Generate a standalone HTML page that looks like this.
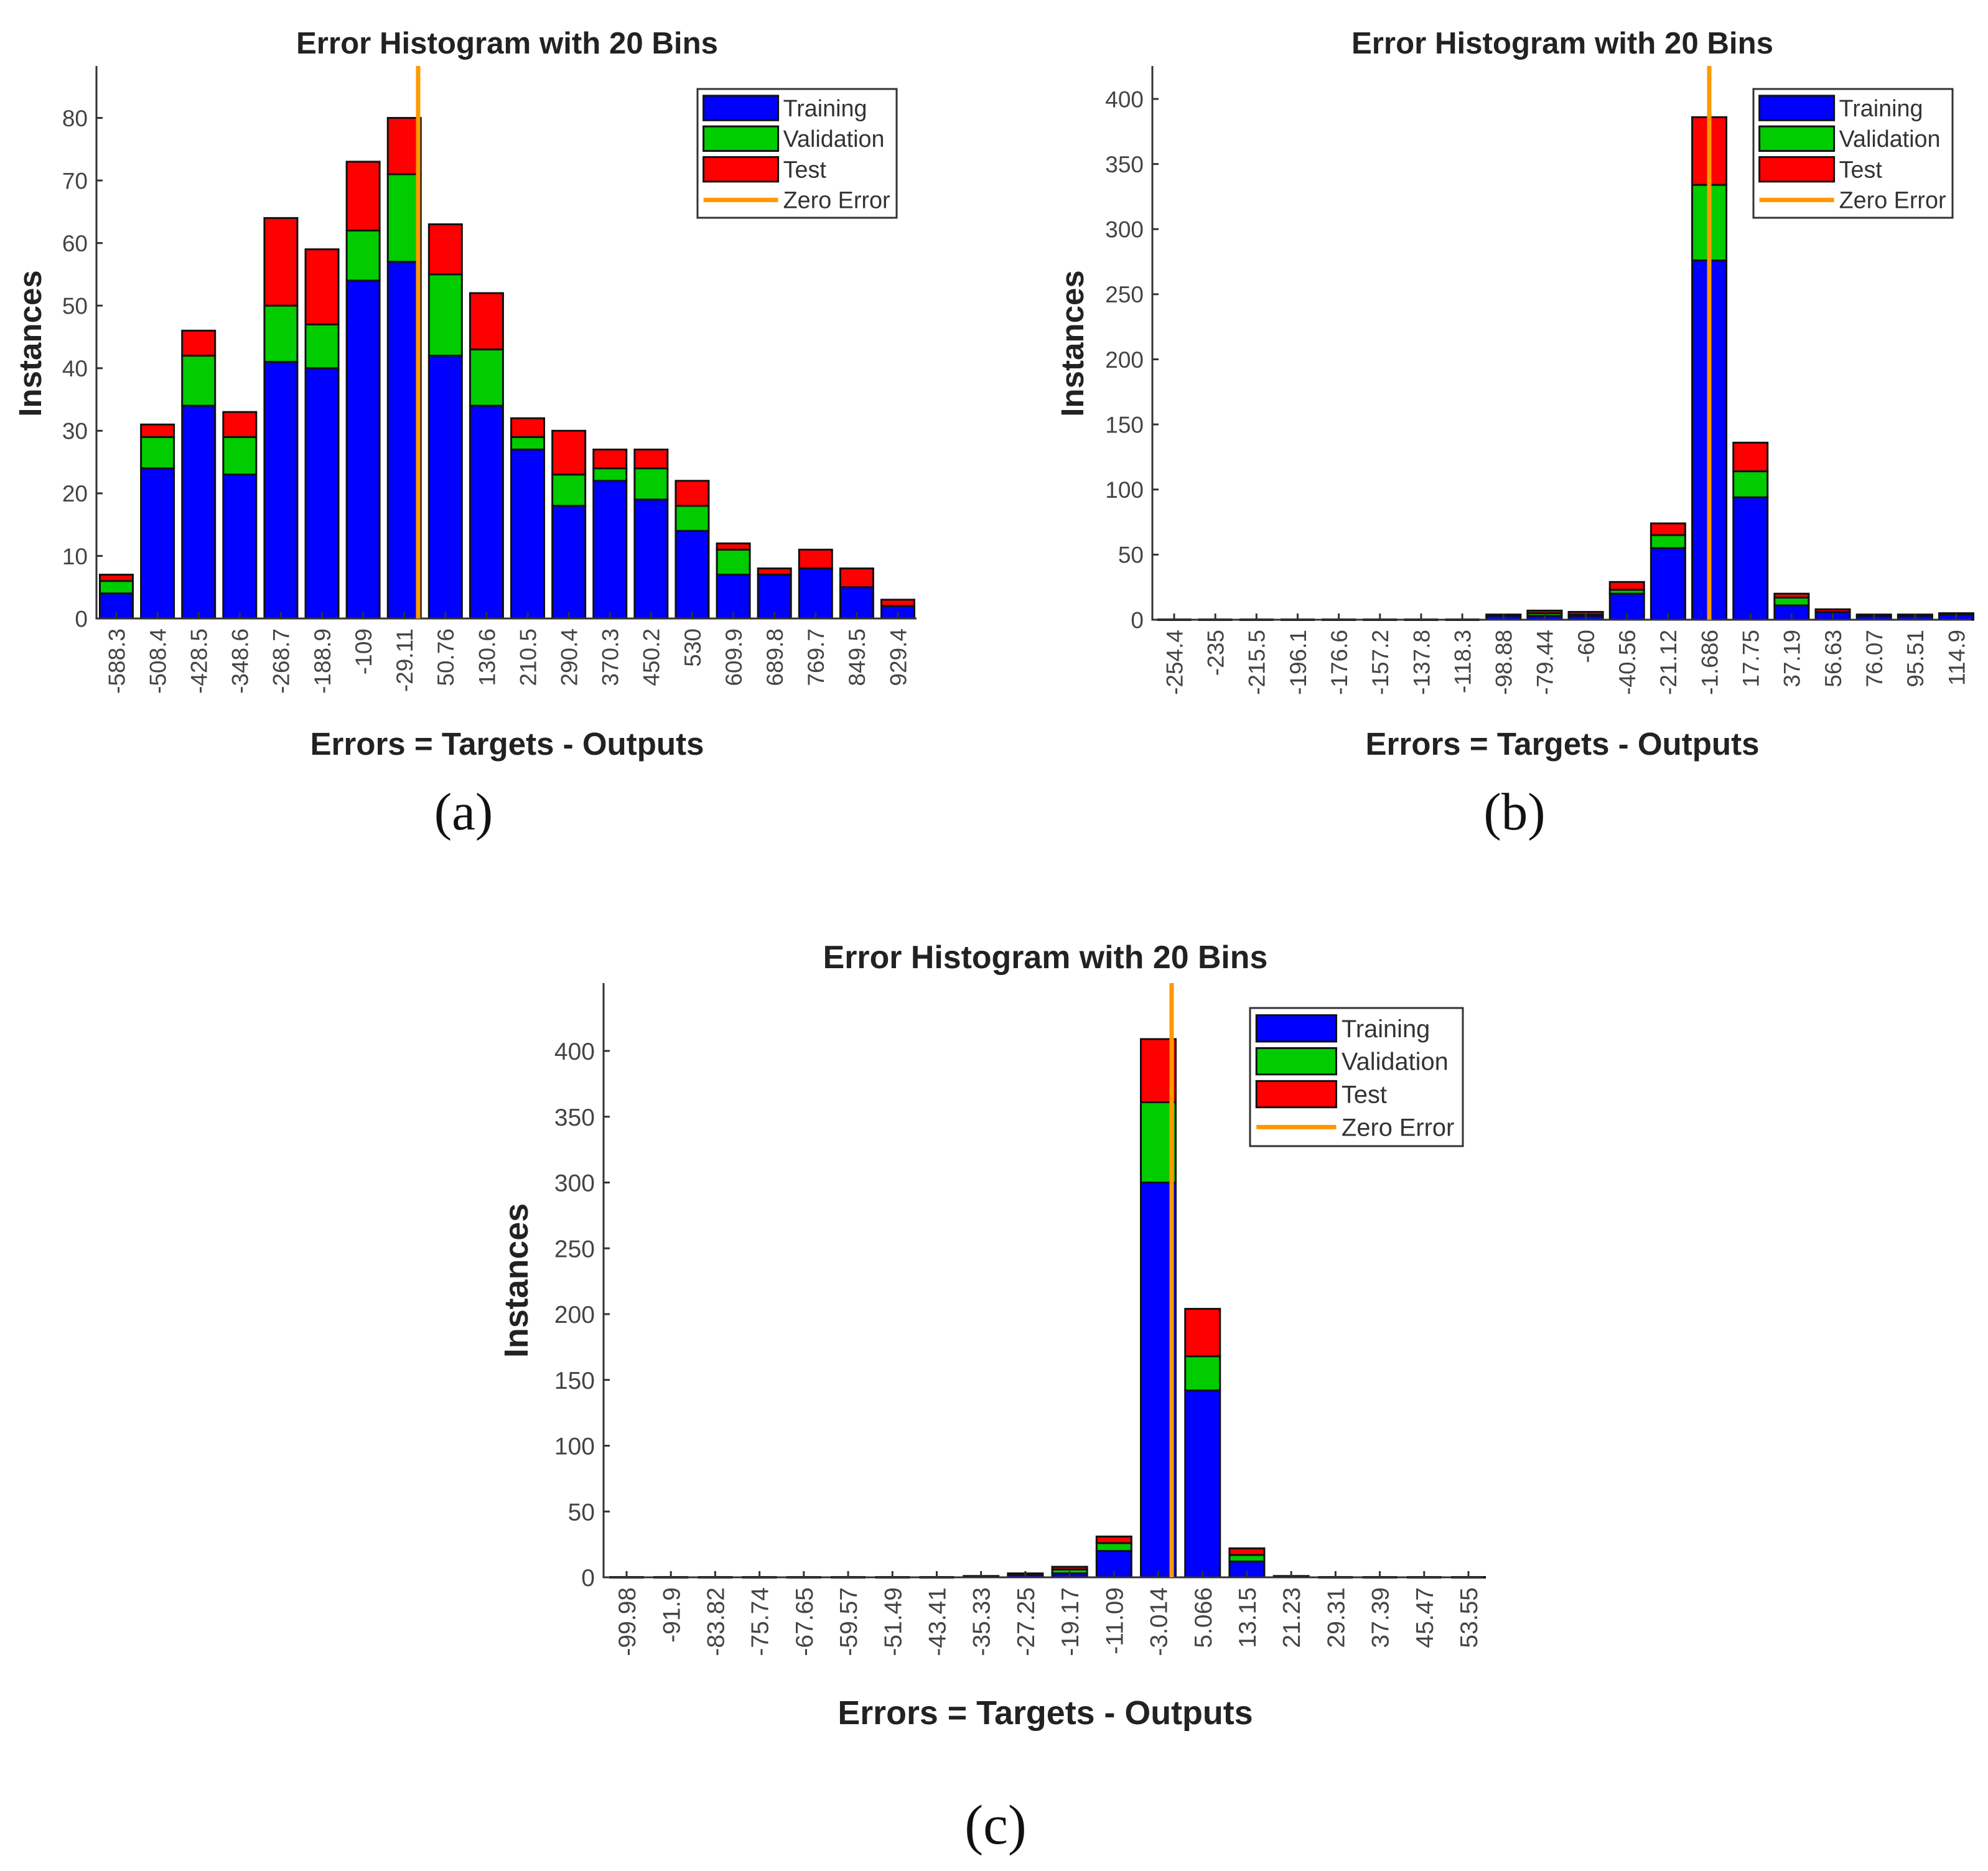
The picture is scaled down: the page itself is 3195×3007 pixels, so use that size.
<!DOCTYPE html>
<html><head><meta charset="utf-8"><style>
html,body{margin:0;padding:0;background:#fff;}
svg{display:block;}
</style></head><body>
<svg id="fig" width="3195" height="3007" viewBox="0 0 3195 3007" xmlns="http://www.w3.org/2000/svg" font-family="Liberation Sans, sans-serif"></svg>
<script>
// Panel (a)
const catsA = ["-588.3","-508.4","-428.5","-348.6","-268.7","-188.9","-109","-29.11","50.76","130.6","210.5","290.4","370.3","450.2","530","609.9","689.8","769.7","849.5","929.4"];
const trainA = [4,24,34,23,41,40,54,57,42,34,27,18,22,19,14,7,7,8,5,2];
const valA   = [2,5,8,6,9,7,8,14,13,9,2,5,2,5,4,4,0,0,0,0];
const testA  = [1,2,4,4,14,12,11,9,8,9,3,7,3,3,4,1,1,3,3,1];
const yTicksA = [0,10,20,30,40,50,60,70,80];
// Panel (b)
const catsB = ["-254.4","-235","-215.5","-196.1","-176.6","-157.2","-137.8","-118.3","-98.88","-79.44","-60","-40.56","-21.12","-1.686","17.75","37.19","56.63","76.07","95.51","114.9"];
const trainB = [0,0,0,0,0,0,0,0,3,3,3,20,55,276,94,11,6,3,3,4];
const valB   = [0,0,0,0,0,0,0,0,0,2,1,3,10,58,20,6,0,0,0,0];
const testB  = [0,0,0,0,0,0,0,0,1,2,2,6,9,52,22,3,2,1,1,1];
const yTicksB = [0,50,100,150,200,250,300,350,400];
// Panel (c)
const catsC = ["-99.98","-91.9","-83.82","-75.74","-67.65","-59.57","-51.49","-43.41","-35.33","-27.25","-19.17","-11.09","-3.014","5.066","13.15","21.23","29.31","37.39","45.47","53.55"];
const trainC = [0,0,0,0,0,0,0,0,1,2,3,20,300,142,12,1,0,0,0,0];
const valC   = [0,0,0,0,0,0,0,0,0,0,3,6,61,26,5,0,0,0,0,0];
const testC  = [0,0,0,0,0,0,0,0,0,1,2,5,48,36,5,0,0,0,0,0];
const yTicksC = [0,50,100,150,200,250,300,350,400];

const NS="http://www.w3.org/2000/svg";
const svg=document.getElementById('fig');
function mk(tag,attrs,parent,text){
  const e=document.createElementNS(NS,tag);
  for(const k in attrs) e.setAttribute(k,attrs[k]);
  if(text!==undefined) e.textContent=text;
  (parent||svg).appendChild(e); return e;
}

function panel(cfg){
  const g=mk('g',{});
  
  
  const L=cfg.left,R=cfg.right,T=cfg.top,B=cfg.bottom;
  const yScale=v=>B-(v-0)*(B-cfg.yAt)/cfg.yVal;
  const xScale=i=>cfg.x0+i*(cfg.x1-cfg.x0)/(cfg.cats.length-1);
  const fs=cfg.fs;
  const t=mk('text',{x:cfg.cx,y:cfg.titleY,'text-anchor':'middle','font-weight':'bold','font-size':fs*1.33,fill:'#222'},g,'Error Histogram with 20 Bins');
  
  
  for(let i=0;i<cfg.cats.length;i++){
    const cx=xScale(i),w=cfg.bw;
    const segs=[[0,cfg.tr[i],'#0000ff','training'],[cfg.tr[i],cfg.tr[i]+cfg.va[i],'#00cc00','validation'],[cfg.tr[i]+cfg.va[i],cfg.tr[i]+cfg.va[i]+cfg.te[i],'#ff0000','test']];
    for(const s of segs){
      if(s[1]<=s[0]) continue;
      const r=mk('rect',{x:cx-w/2,y:yScale(s[1]),width:w,height:yScale(s[0])-yScale(s[1]),fill:s[2],stroke:'#111','stroke-width':3},g);
      
      
    }
    const tot=cfg.tr[i]+cfg.va[i]+cfg.te[i];
    if(tot===0){
      mk('line',{x1:cx-w/2,x2:cx+w/2,y1:B,y2:B,stroke:'#111','stroke-width':4},g);
    }
  }
  const ax=mk('path',{d:`M${L},${T} L${L},${B} L${R},${B}`,fill:'none',stroke:'#333','stroke-width':3},g);
  
  
  for(const v of cfg.yTicks){
    const y=yScale(v);
    mk('line',{x1:L,x2:L+10,y1:y,y2:y,stroke:'#333','stroke-width':3},g);
    const tl=mk('text',{x:L-14,y:y+fs*0.36,'text-anchor':'end','font-size':fs,fill:'#444'},g,String(v));
    
    
  }
  for(let i=0;i<cfg.cats.length;i++){
    const x=xScale(i);
    mk('line',{x1:x,x2:x,y1:B,y2:B-10,stroke:'#333','stroke-width':3},g);
    const tl=mk('text',{x:0,y:0,'text-anchor':'end','font-size':fs,fill:'#444',transform:`translate(${x+fs*0.36},${B+16}) rotate(-90)`},g,cfg.cats[i]);
    
    
  }
  const zl=mk('line',{x1:cfg.zeroX,x2:cfg.zeroX,y1:T,y2:B,stroke:'#ff9900','stroke-width':7},g);
  
  
  const yl=mk('text',{x:0,y:0,'text-anchor':'middle','font-weight':'bold','font-size':fs*1.38,fill:'#222',transform:`translate(${cfg.ylabX},${cfg.ylabY}) rotate(-90)`},g,'Instances');
  
  
  const xl=mk('text',{x:cfg.cx,y:cfg.xlabY,'text-anchor':'middle','font-weight':'bold','font-size':fs*1.38,fill:'#222'},g,'Errors = Targets - Outputs');
  
  
  const cap=mk('text',{x:cfg.capX,y:cfg.capY,'text-anchor':'middle','font-size':fs*2.3,fill:'#111','font-family':'Liberation Serif, serif'},g,cfg.cap);
  
  
  const lg=mk('g',{},g);
  
  
  const lx=cfg.leg[0],ly=cfg.leg[1],lw=cfg.leg[2],lh=cfg.leg[3];
  mk('rect',{x:lx,y:ly,width:lw,height:lh,fill:'#fff',stroke:'#333','stroke-width':3},lg);
  const names=['Training','Validation','Test','Zero Error'];
  const cols=['#0000ff','#00cc00','#ff0000','#ff9900'];
  const rh=lh/4.2;
  for(let k=0;k<4;k++){
    const cy=ly+rh*0.62+k*rh;
    const e=mk('g',{},lg);
    
    
    const sw=lw*0.375;
    if(k<3) mk('rect',{x:lx+lw*0.03,y:cy-rh*0.4,width:sw,height:rh*0.8,fill:cols[k],stroke:'#111','stroke-width':3},e);
    else mk('line',{x1:lx+lw*0.03,x2:lx+lw*0.03+sw,y1:cy,y2:cy,stroke:cols[k],'stroke-width':7},e);
    mk('text',{x:lx+lw*0.43,y:cy+fs*0.36,'font-size':fs*1.02,fill:'#333'},e,names[k]);
  }
}

panel({name:'panel-a',cats:catsA,tr:trainA,va:valA,te:testA,yTicks:yTicksA,
  left:155,right:1473,top:106,bottom:994,yAt:189.5,yVal:80,x0:187,x1:1443,bw:53,zeroX:672,fs:37,
  cx:815,titleY:86,ylabX:66,ylabY:552,xlabY:1213,capX:745,capY:1333,cap:'(a)',leg:[1121,143,320,207]});
panel({name:'panel-b',cats:catsB,tr:trainB,va:valB,te:testB,yTicks:yTicksB,
  left:1852,right:3168,top:106,bottom:996,yAt:159,yVal:400,x0:1887,x1:3144,bw:55,zeroX:2747,fs:37,
  cx:2511,titleY:86,ylabX:1741,ylabY:552,xlabY:1213,capX:2434,capY:1333,cap:'(b)',leg:[2818,143,320,207]});
panel({name:'panel-c',cats:catsC,tr:trainC,va:valC,te:testC,yTicks:yTicksC,
  left:970,right:2384,top:1580,bottom:2535,yAt:1689,yVal:400,x0:1007,x1:2360,bw:56,zeroX:1883,fs:39,
  cx:1680,titleY:1556,ylabX:848,ylabY:2058,xlabY:2771,capX:1600,capY:2963,cap:'(c)',leg:[2009,1620,342,222]});
</script>
</body></html>
